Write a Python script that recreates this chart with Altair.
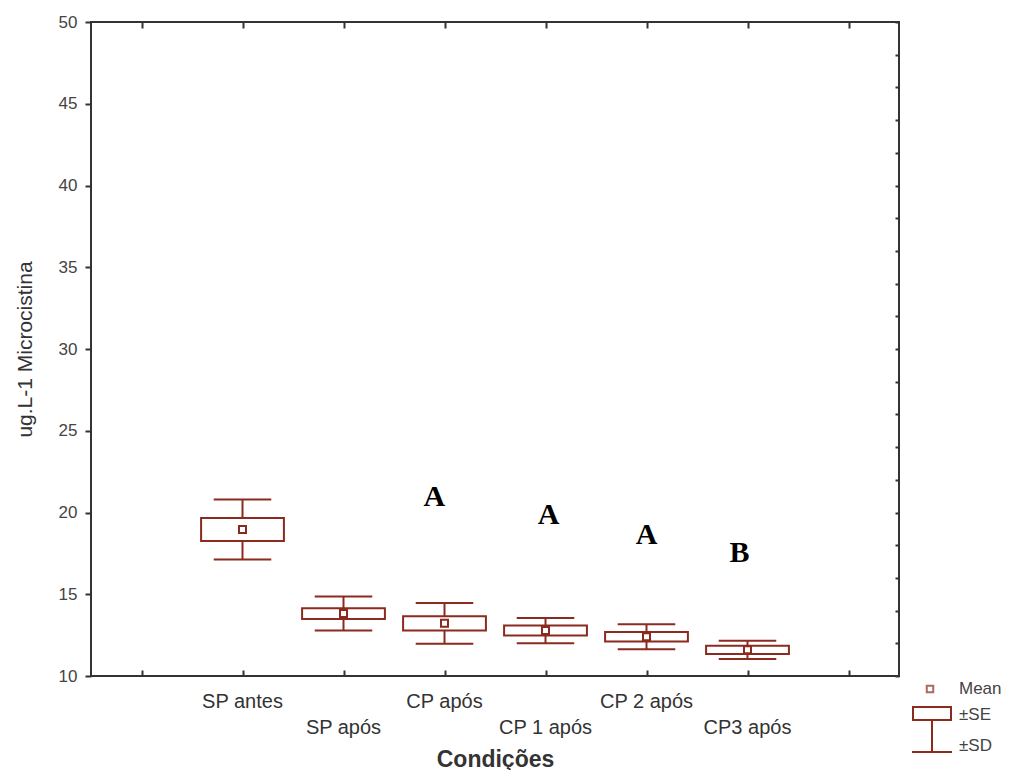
import altair as alt
import pandas as pd

# ---- data ----
categories = ["SP antes", "SP após", "CP após", "CP 1 após", "CP 2 após", "CP3 após"]
positions = [1, 2, 3, 4, 5, 6]
means = [18.96, 13.82, 13.22, 12.78, 12.40, 11.60]
se = [0.70, 0.33, 0.43, 0.31, 0.29, 0.25]
sd = [1.84, 1.04, 1.24, 0.77, 0.76, 0.56]
label_row = [0, 1, 0, 1, 0, 1]

letters = ["A", "A", "A", "B"]
letter_x = [2.90, 4.03, 5.00, 5.92]
letter_y = [20.95, 19.85, 18.62, 17.52]

y_ticks = list(range(10, 51, 5))
y_minor = list(range(10, 51, 2))
x_ticks = list(range(0, 8))

legend_items = ["Mean", "±SE", "±SD"]

# ---- styles ----
C = "#8b2a1e"
TXT = "#333333"
FONT = "Liberation Sans"
W, H = 808, 654
BOX_HALF = 0.41
CAP_HALF = 0.285

df = pd.DataFrame({"cat": categories, "pos": positions, "mean": means, "se": se, "sd": sd, "row": label_row})
df["se_lo"] = df["mean"] - df["se"]
df["se_hi"] = df["mean"] + df["se"]
df["sd_lo"] = df["mean"] - df["sd"]
df["sd_hi"] = df["mean"] + df["sd"]
df["box_l"] = df["pos"] - BOX_HALF
df["box_r"] = df["pos"] + BOX_HALF
df["cap_l"] = df["pos"] - CAP_HALF
df["cap_r"] = df["pos"] + CAP_HALF

let_df = pd.DataFrame({"t": letters, "x": letter_x, "y": letter_y})

xs = alt.Scale(domain=[-0.5, 7.5], nice=False, zero=False)
ys = alt.Scale(domain=[10, 50], nice=False, zero=False)

x_bottom = alt.Axis(orient="bottom", values=x_ticks, labels=False, domain=False, grid=False,
                    tickSize=6, offset=-6, tickColor="#333", tickWidth=2,
                    title="Condições", titleFont=FONT, titleFontSize=23, titleFontWeight="bold",
                    titleColor=TXT, titleX=W / 2, titleY=89, titleBaseline="middle", titleAlign="center")
y_left = alt.Axis(orient="left", values=y_ticks, domain=False, grid=False, tickSize=6,
                  tickColor="#333", tickWidth=2, labelFont=FONT, labelFontSize=17, labelColor="#444",
                  labelPadding=8, title="ug.L-1 Microcistina", titleFont=FONT, titleFontSize=21,
                  titleFontWeight="normal", titleColor=TXT, titleX=-66, titleY=H / 2,
                  titleAngle=270, titleBaseline="middle", titleAlign="center")
x_top = alt.Axis(orient="top", values=x_ticks, labels=False, domain=False, grid=False,
                 tickSize=6, offset=-6, tickColor="#333", tickWidth=2, title=None)
y_right = alt.Axis(orient="right", values=y_minor, labels=False, domain=False, grid=False,
                   tickSize=4, offset=-4, tickColor="#333", tickWidth=2, title=None)

base = alt.Chart(df)

whisker = base.mark_rule(color=C, strokeWidth=2).encode(
    x=alt.X("pos:Q", scale=xs, axis=x_bottom),
    y=alt.Y("sd_lo:Q", scale=ys, axis=y_left),
    y2="sd_hi:Q",
)
frame_ticks = base.mark_point(opacity=0).encode(
    x=alt.X("pos:Q", scale=xs, axis=x_top),
    y=alt.Y("mean:Q", scale=ys, axis=y_right),
)
cap_hi = base.mark_rule(color=C, strokeWidth=2).encode(
    x=alt.X("cap_l:Q", scale=xs, axis=None), x2="cap_r:Q",
    y=alt.Y("sd_hi:Q", scale=ys, axis=None),
)
cap_lo = base.mark_rule(color=C, strokeWidth=2).encode(
    x=alt.X("cap_l:Q", scale=xs, axis=None), x2="cap_r:Q",
    y=alt.Y("sd_lo:Q", scale=ys, axis=None),
)
box = base.mark_rect(fill="white", stroke=C, strokeWidth=2).encode(
    x=alt.X("box_l:Q", scale=xs, axis=None), x2="box_r:Q",
    y=alt.Y("se_lo:Q", scale=ys, axis=None), y2="se_hi:Q",
)
mean_pt = base.mark_square(size=49, filled=True, fill="white", stroke=C, strokeWidth=2, opacity=1).encode(
    x=alt.X("pos:Q", scale=xs, axis=None),
    y=alt.Y("mean:Q", scale=ys, axis=None),
)
letter_txt = alt.Chart(let_df).mark_text(font="Liberation Serif", fontWeight="bold", fontSize=30,
                                         color="black", baseline="middle", align="center").encode(
    x=alt.X("x:Q", scale=xs, axis=None),
    y=alt.Y("y:Q", scale=ys, axis=None),
    text="t:N",
)
lab1 = base.transform_filter("datum.row == 0").mark_text(
    font=FONT, fontSize=20, color=TXT, baseline="middle", align="center").encode(
    x=alt.X("pos:Q", scale=xs, axis=None), y=alt.value(H + 26), text="cat:N")
lab2 = base.transform_filter("datum.row == 1").mark_text(
    font=FONT, fontSize=20, color=TXT, baseline="middle", align="center").encode(
    x=alt.X("pos:Q", scale=xs, axis=None), y=alt.value(H + 52), text="cat:N")

# ---- legend (outside plot, bottom right) ----
ldf = pd.DataFrame({"k": [0]})
lbase = alt.Chart(ldf)
leg_sq = lbase.mark_square(size=42, filled=True, fill="white", stroke=C, strokeWidth=2).encode(
    x=alt.value(839), y=alt.value(667))
leg_box = lbase.mark_rect(fill="white", stroke=C, strokeWidth=2).encode(
    x=alt.value(822), x2=alt.value(860), y=alt.value(685), y2=alt.value(698))
leg_v = lbase.mark_rule(color=C, strokeWidth=2).encode(
    x=alt.value(841), y=alt.value(698), y2=alt.value(730))
leg_cap = lbase.mark_rule(color=C, strokeWidth=2).encode(
    x=alt.value(821), x2=alt.value(861), y=alt.value(730))
leg_t = []
for txt, yy in zip(legend_items, [667, 693, 724]):
    leg_t.append(alt.Chart(pd.DataFrame({"t": [txt]})).mark_text(
        font=FONT, fontSize=17, color="#444", align="left", baseline="middle").encode(
        x=alt.value(868), y=alt.value(yy), text="t:N"))

chart = alt.layer(
    whisker, frame_ticks, cap_hi, cap_lo, box, mean_pt, letter_txt, lab1, lab2,
    leg_sq, leg_box, leg_v, leg_cap, *leg_t,
).resolve_axis(x="independent", y="independent").properties(
    width=W, height=H,
    autosize=alt.AutoSizeParams(type="none"),
    padding={"left": 83, "top": 14, "right": 104, "bottom": 94},
    background="white",
).configure_view(stroke="#333", strokeWidth=2)

chart.save("out.html", embed_options={"renderer": "svg", "actions": False})
